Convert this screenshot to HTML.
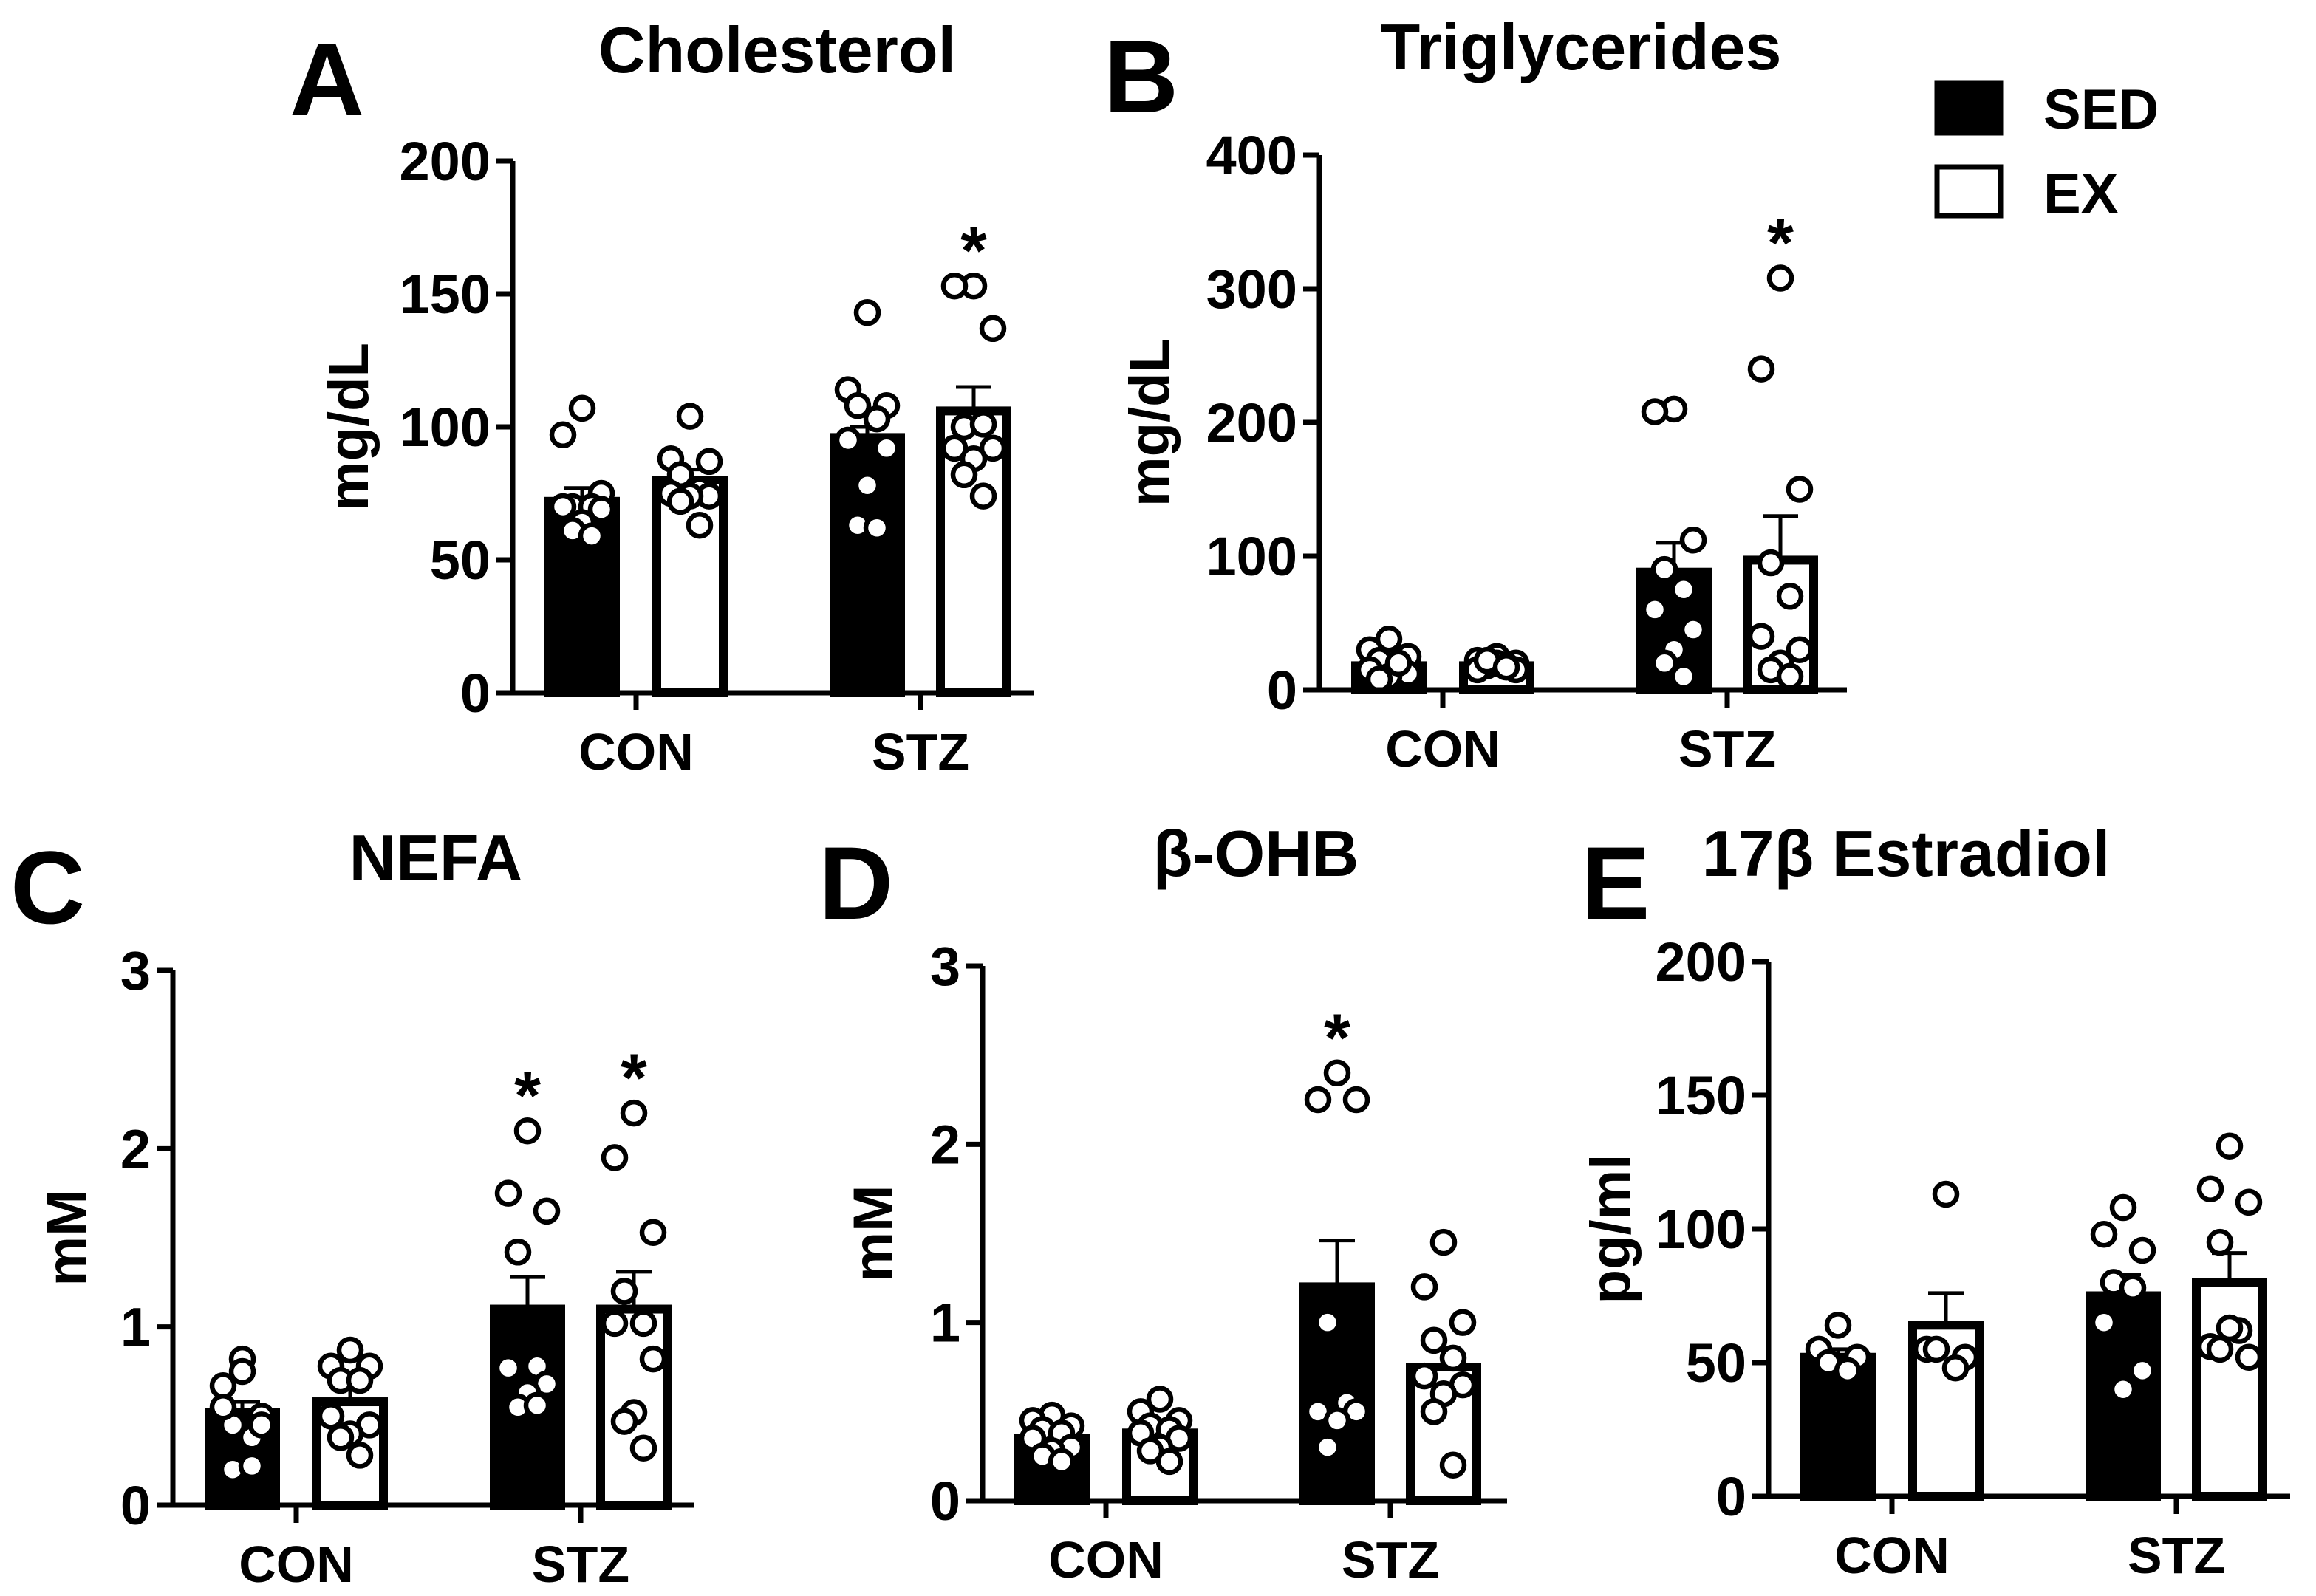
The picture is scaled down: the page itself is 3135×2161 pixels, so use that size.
<!DOCTYPE html>
<html><head><meta charset="utf-8"><style>
html,body{margin:0;padding:0;background:#fff;}
svg{display:block;font-family:"Liberation Sans",Arial,sans-serif;font-weight:bold;}
</style></head><body>
<svg id="fig" width="3135" height="2161" viewBox="0 0 3135 2161" xmlns="http://www.w3.org/2000/svg"></svg>
<script>
const NS='http://www.w3.org/2000/svg';
const svg=document.getElementById('fig');
const categories=['CON','STZ'];
const groups=['SED','EX'];
// Panel A - Cholesterol
const cholMean=[72,80,96,106];
const cholSem=[5,4,4,9];
const cholPts=[[107,97,75,70,70,70,69,64,61,59],[104,88,87,82,76,75,74,74,72,63],[143,114,108,108,103,95,92,78,63,62],[153,153,137,100,101,92,92,88,82,74]];
const cholTicks=[0,50,100,150,200];
// Panel B - Triglycerides
const tgMean=[18,18,88,97];
const tgSem=[4,3,22,33];
const tgPts=[[38,30,25,22,18,15,12,10,8,20],[25,22,20,18,18,15,15,20,22,17],[210,208,112,90,75,60,45,30,20,10],[308,240,150,95,70,40,30,20,15,10]];
const tgTicks=[0,100,200,300,400];
// Panel C - NEFA
const nefaMean=[0.52,0.58,1.1,1.1];
const nefaSem=[0.06,0.09,0.18,0.21];
const nefaPts=[[0.82,0.67,0.5,0.45,0.38,0.55,0.45,0.75,0.2,0.22],[0.87,0.78,0.78,0.7,0.7,0.5,0.45,0.4,0.38,0.28],[2.1,1.75,1.65,1.42,0.78,0.77,0.68,0.63,0.55,0.56],[2.2,1.95,1.53,1.2,1.02,1.02,0.82,0.52,0.47,0.32]];
const nefaTicks=[0,1,2,3];
// Panel D - beta-OHB
const ohbMean=[0.35,0.38,1.2,0.75];
const ohbSem=[0.04,0.04,0.26,0.1];
const ohbPts=[[0.48,0.45,0.42,0.4,0.38,0.35,0.3,0.28,0.25,0.22],[0.57,0.5,0.45,0.42,0.4,0.38,0.35,0.3,0.28,0.22],[2.4,2.25,2.25,1.0,0.55,0.5,0.5,0.45,0.3],[1.45,1.2,1.0,0.9,0.8,0.7,0.65,0.6,0.5,0.2]];
const ohbTicks=[0,1,2,3];
// Panel E - Estradiol
const e2Mean=[52,64,75,80];
const e2Sem=[3,12,8,11];
const e2Pts=[[64,55,52,50,47],[113,55,52,55,48],[108,98,92,80,78,65,47,40],[131,115,110,95,62,56,52,63,55]];
const e2Ticks=[0,50,100,150,200];

function el(tag,attrs,parent){const e=document.createElementNS(NS,tag);for(const k in attrs)e.setAttribute(k,attrs[k]);(parent||svg).appendChild(e);return e;}
function txt(s,attrs,parent){const t=el('text',attrs,parent);t.textContent=s;return t;}

const jit=[0,-26,26,-13,13,-26,26,0,-13,13];
function panel(cfg){
  const g=el('g',{});
  
  
  const ax=cfg.ax,y0=cfg.y0,yt=cfg.yt,max=cfg.ticks[cfg.ticks.length-1];
  const y=v=>y0-(v/max)*(y0-yt);
  const centers=[ax+94,ax+240,ax+480,ax+624];
  for(let i=0;i<4;i++){
    const c=centers[i],m=cfg.mean[i],top=y(m);
    const r=el('rect',{x:c-45,y:top,width:90,height:y0-top,fill:i%2?'#fff':'#000',stroke:'#000','stroke-width':12},g);
    
    
    const yt2=y(m+cfg.sem[i]);
    const eb=el('path',{d:`M${c} ${top} V${yt2} M${c-24} ${yt2} H${c+24}`,stroke:'#000','stroke-width':5,fill:'none'},g);
    
    
    cfg.pts[i].forEach((v,j)=>{
      const d=el('circle',{cx:c+jit[j%jit.length],cy:y(v),r:15,fill:'#fff',stroke:'#000','stroke-width':6.5},g);
      
      
    });
  }
  const a=el('path',{d:`M${ax} ${yt} V${y0} H${ax+cfg.w}`,stroke:'#000','stroke-width':7,fill:'none'},g);
  
  
  cfg.ticks.forEach(v=>{
    el('line',{x1:ax-22,x2:ax,y1:y(v),y2:y(v),stroke:'#000','stroke-width':7},g);
    const t=txt(String(v),{x:ax-30,y:y(v)+26,'text-anchor':'end','font-size':74},g);
    
    
  });
  [0,1].forEach(k=>{
    const cx=(centers[2*k]+centers[2*k+1])/2;
    el('line',{x1:cx,x2:cx,y1:y0,y2:y0+24,stroke:'#000','stroke-width':7},g);
    const t=txt(categories[k],{x:cx,y:y0+104,'text-anchor':'middle','font-size':70},g);
    
    
  });
  cfg.stars.forEach(i=>{
    const s=txt('*',{x:centers[i],y:y(Math.max(...cfg.pts[i]))-16,'text-anchor':'middle','font-size':92},g);
    
    
  });
  const tl=txt(cfg.title,{x:cfg.tx,y:cfg.ty+6,'text-anchor':'middle','font-size':88},g);
  
  
  const lt=txt(cfg.id,{x:cfg.lx,y:cfg.ty+64,'font-size':140},g);
  
  
  const yl=txt(cfg.ylab,{x:0,y:0,'text-anchor':'middle','font-size':76,transform:`translate(${cfg.ylx},${(y0+yt)/2}) rotate(-90)`},g);
  
  
}
panel({id:'A',title:'Cholesterol',ylab:'mg/dL',ax:694,y0:938,yt:218,w:706,mean:cholMean,sem:cholSem,pts:cholPts,ticks:cholTicks,stars:[3],tx:1052,ty:92,lx:392,ylx:498});
panel({id:'B',title:'Triglycerides',ylab:'mg/dL',ax:1786,y0:934,yt:210,w:714,mean:tgMean,sem:tgSem,pts:tgPts,ticks:tgTicks,stars:[3],tx:2140,ty:88,lx:1494,ylx:1582});
panel({id:'C',title:'NEFA',ylab:'mM',ax:234,y0:2038,yt:1314,w:706,mean:nefaMean,sem:nefaSem,pts:nefaPts,ticks:nefaTicks,stars:[2,3],tx:590,ty:1186,lx:14,ylx:116});
panel({id:'D',title:'β-OHB',ylab:'mM',ax:1330,y0:2032,yt:1308,w:710,mean:ohbMean,sem:ohbSem,pts:ohbPts,ticks:ohbTicks,stars:[2],tx:1700,ty:1180,lx:1108,ylx:1208});
panel({id:'E',title:'17β Estradiol',ylab:'pg/ml',ax:2394,y0:2026,yt:1302,w:706,mean:e2Mean,sem:e2Sem,pts:e2Pts,ticks:e2Ticks,stars:[],tx:2580,ty:1180,lx:2140,ylx:2206});
const lg=el('g',{});


const l1=el('rect',{x:2622,y:112,width:86,height:68,fill:'#000',stroke:'#000','stroke-width':7},lg);


const l2=el('rect',{x:2622,y:226,width:86,height:66,fill:'#fff',stroke:'#000','stroke-width':7},lg);


const t1=txt('SED',{x:2766,y:174,'font-size':76},lg);


const t2=txt('EX',{x:2766,y:288,'font-size':76},lg);


</script>
</body></html>
